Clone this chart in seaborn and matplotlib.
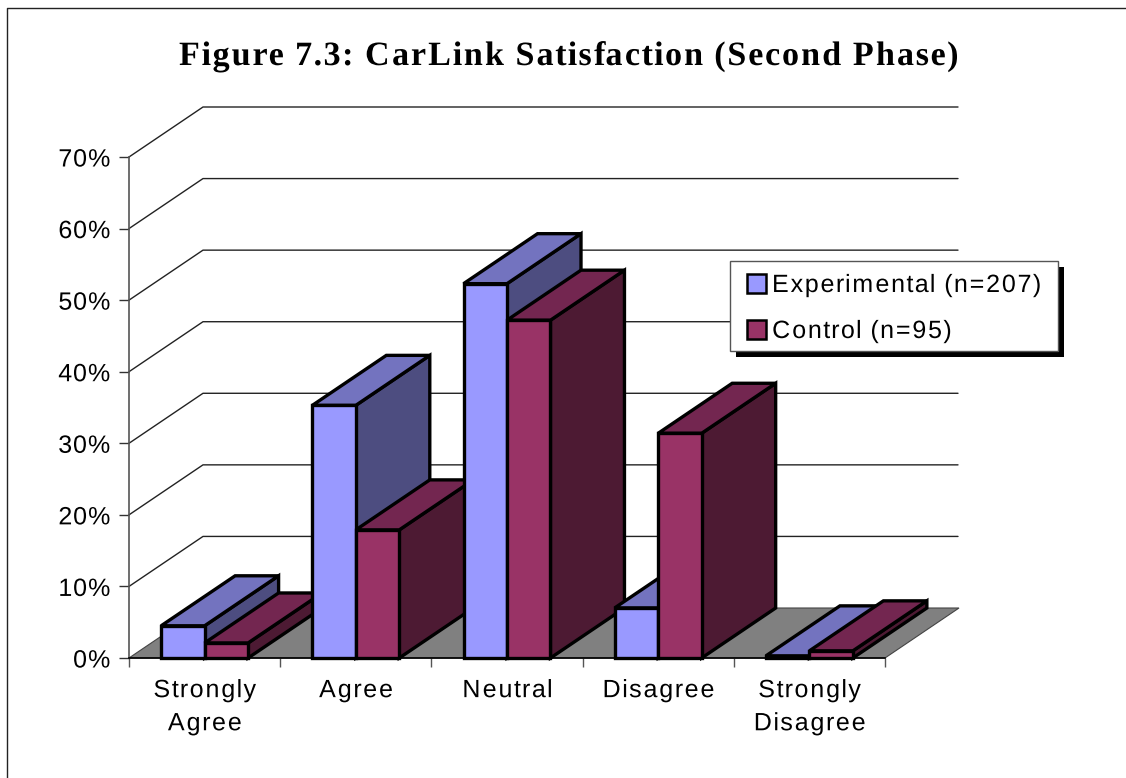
"""
CarLink satisfaction chart, drawn as an old spreadsheet style 3D column chart
"""

import matplotlib
matplotlib.use("Agg")
import matplotlib.pyplot as plt
import matplotlib.patheffects as pe
import numpy as np
import pandas as pd
import seaborn as sns
from matplotlib.patches import Patch, Polygon, Rectangle
from matplotlib.path import Path
from matplotlib.transforms import Affine2D, IdentityTransform

categories = ["Strongly\nAgree", "Agree", "Neutral", "Disagree", "Strongly\nDisagree"]
experimental = [4.5, 35.3, 52.3, 7.0, 0.3]
control = [2.1, 17.9, 47.2, 31.4, 1.0]
series_names = ["Experimental (n=207)", "Control (n=95)"]
y_ticks = [0, 10, 20, 30, 40, 50, 60, 70]

W, H = 1126, 778
DEPTH_X, DEPTH_Y = 74, 50

# front, top and side shades of each series
EXP_COLORS = ("#9999FF", "#7373BF", "#4D4D80")
CTRL_COLORS = ("#993366", "#732650", "#4D1A33")
SANS = "Liberation Sans"
TXT = 18


class Spaced(pe.AbstractPathEffect):
    """Open up the letter spacing, matplotlib text has no setting for it"""

    def __init__(self, factor, anchor="center"):
        super().__init__()
        self.factor = factor
        self.anchor = anchor

    def draw_path(self, renderer, gc, tpath, affine, rgbFace=None):
        path = tpath.transformed(affine)
        verts = path.vertices.copy()
        starts = np.flatnonzero(path.codes == Path.MOVETO)
        ends = np.append(starts[1:], len(verts))

        # contours that overlap sideways belong to the same letter
        spans = sorted((verts[a:b, 0].min(), verts[a:b, 0].max(), a, b) for a, b in zip(starts, ends))
        letters = []
        for lo, hi, a, b in spans:
            if letters and lo < letters[-1][1]:
                letters[-1][1] = max(letters[-1][1], hi)
                letters[-1][2].append((a, b))
            else:
                letters.append([lo, hi, [(a, b)]])

        x_min, x_max = verts[:, 0].min(), verts[:, 0].max()
        origin = {"left": x_min, "right": x_max, "center": (x_min + x_max) / 2}[self.anchor]
        for lo, hi, parts in letters:
            shift = ((lo + hi) / 2 - origin) * (self.factor - 1)
            for a, b in parts:
                verts[a:b, 0] += shift
        renderer.draw_path(gc, Path(verts, path.codes), IdentityTransform(), rgbFace)


sns.set_style("white")
plt.rcParams["font.family"] = [SANS, "DejaVu Sans"]
plt.rcParams["text.color"] = "black"
plt.rcParams["xtick.labelcolor"] = "black"
plt.rcParams["ytick.labelcolor"] = "black"

df = pd.DataFrame({
    "category": categories * 2,
    "value": experimental + control,
    "series": [series_names[0]] * 5 + [series_names[1]] * 5,
})

fig = plt.figure(figsize=(W / 100, H / 100), dpi=100)
ax = fig.add_axes([129 / W, (H - 658) / H, 756 / W, 501 / H])
ax.patch.set_alpha(0)

sns.barplot(data=df, x="category", y="value", hue="series", ax=ax,
            palette=[EXP_COLORS[0], CTRL_COLORS[0]], width=0.575, gap=0,
            saturation=1, legend=False, edgecolor="black", linewidth=2.4)
ax.set_xlim(-0.5, 4.5)
ax.set_ylim(0, 70)
ax.set_xlabel("")
ax.set_ylabel("")

pixels = Affine2D().scale(1, -1).translate(0, H)
depth = ax.transData + Affine2D().translate(DEPTH_X, DEPTH_Y)


def to_display(x, y, back=False):
    return (depth if back else ax.transData).transform((x, y))


# walls and floor
for tick in y_ticks[1:]:
    left = to_display(-0.5, tick)
    corner = to_display(-0.5, tick, back=True)
    right = to_display(4.5, tick, back=True)
    ax.plot([left[0], corner[0], right[0] - 1], [left[1], corner[1], right[1]],
            color="#222222", lw=1.0, transform=None, clip_on=False, zorder=1)

floor = [to_display(-0.5, 0), to_display(-0.5, 0, True),
         to_display(4.5, 0, True), to_display(4.5, 0)]
ax.add_patch(Polygon(floor, closed=True, facecolor="#808080", edgecolor="#444444",
                     lw=0.8, transform=None, clip_on=False, zorder=1.5))

# bars go left to right so that later ones hide the sides of earlier ones
bars = sorted(ax.patches[:10], key=lambda b: b.get_x())
n_exp = {id(b) for b in ax.patches[:5]}
for i, bar in enumerate(bars):
    shades = EXP_COLORS if id(bar) in n_exp else CTRL_COLORS
    x0, x1 = bar.get_x(), bar.get_x() + bar.get_width()
    h = bar.get_height()
    z = 3 + i
    top = [to_display(x0, h), to_display(x1, h), to_display(x1, h, True), to_display(x0, h, True)]
    side = [to_display(x1, 0), to_display(x1, 0, True), to_display(x1, h, True), to_display(x1, h)]
    for verts, colour in ((side, shades[2]), (top, shades[1])):
        ax.add_patch(Polygon(verts, closed=True, facecolor=colour, edgecolor="black",
                             lw=2.4, joinstyle="miter", transform=None,
                             clip_on=False, zorder=z))
    bar.set_clip_on(False)
    bar.set_zorder(z + 0.5)

# axes
for name in ("top", "right"):
    ax.spines[name].set_visible(False)
ax.spines["left"].set_color("#555555")
ax.spines["left"].set_linewidth(1.2)
ax.spines["bottom"].set_color("black")
ax.spines["bottom"].set_linewidth(1.2)
ax.spines["left"].set_zorder(2)
ax.spines["bottom"].set_zorder(20)

ax.set_yticks(y_ticks)
ax.set_yticklabels([f"{t}%" for t in y_ticks], fontsize=TXT)
ax.set_xticks(range(5))
ax.set_xticklabels(categories, fontsize=TXT, linespacing=1.48)
ax.set_xticks([i - 0.5 for i in range(6)], minor=True)
ax.tick_params(axis="x", which="major", length=0, pad=14.5)
ax.tick_params(axis="x", which="minor", bottom=True, length=6.5, width=1.0, color="#555555")
ax.tick_params(axis="y", left=True, length=7, width=1.0, color="#333333", pad=6)
for label in ax.get_xticklabels():
    label.set_path_effects([Spaced(1.14)])
for label in ax.get_yticklabels():
    label.set_path_effects([Spaced(1.06, "right")])

# outer frame, only left and top reach the picture
fig.add_artist(plt.Line2D([7, 7, W], [H, 8, 8], color="#222222", lw=1.0, transform=pixels))

title = fig.text(568 / W, 1 - 65 / H, "Figure 7.3: CarLink Satisfaction (Second Phase)",
                 family="Liberation Serif", fontweight="bold", fontsize=24.5, ha="center", va="baseline")
title.set_path_effects([Spaced(1.115)])

# legend box with its hard shadow
ax.add_patch(Rectangle((736, 267), 328, 90, facecolor="black", edgecolor="none",
                       transform=pixels, clip_on=False, zorder=30))
ax.add_patch(Rectangle((730, 261), 328, 90, facecolor="white", edgecolor="#555555",
                       lw=1.0, transform=pixels, clip_on=False, zorder=31))
handles = [Patch(facecolor=EXP_COLORS[0], edgecolor="black", lw=1.8, label=series_names[0]),
           Patch(facecolor=CTRL_COLORS[0], edgecolor="black", lw=1.8, label=series_names[1])]
legend = ax.legend(handles=handles, loc="center left", frameon=False, fontsize=TXT,
                   bbox_to_anchor=(747, H - 308), bbox_transform=IdentityTransform(),
                   handlelength=0.76, handleheight=0.8, handletextpad=0.2,
                   labelspacing=0.88, borderpad=0, borderaxespad=0)
legend.set_zorder(32)
for text in legend.get_texts():
    text.set_path_effects([Spaced(1.13, "left")])

fig.savefig("out.png", dpi=100)
plt.close(fig)
